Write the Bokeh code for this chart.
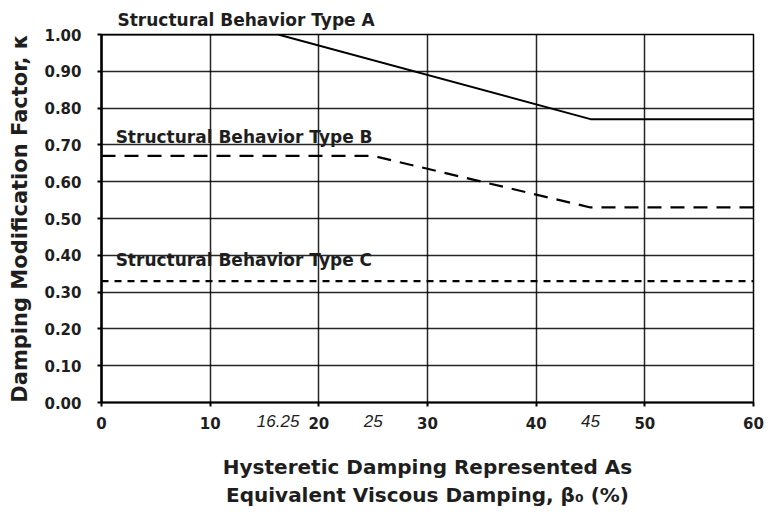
from bokeh.plotting import figure
from bokeh.models import Range1d, FixedTicker, NumeralTickFormatter, Label, LinearAxis, Title
from bokeh.embed import file_html
from bokeh.resources import INLINE

# Data
x_ticks = [0, 10, 20, 30, 40, 50, 60]
y_ticks = [0.0, 0.1, 0.2, 0.3, 0.4, 0.5, 0.6, 0.7, 0.8, 0.9, 1.0]
extra_x_ticks = [16.25, 25, 45]

type_a_x = [0, 16.25, 45, 60]
type_a_y = [1.00, 1.00, 0.77, 0.77]
type_b_x = [0, 25, 45, 60]
type_b_y = [0.67, 0.67, 0.53, 0.53]
type_c_x = [0, 60]
type_c_y = [0.33, 0.33]

label_a = "Structural Behavior Type A"
label_b = "Structural Behavior Type B"
label_c = "Structural Behavior Type C"
label_b_pos = (1.3, 0.722)
label_c_pos = (1.3, 0.386)

FONT = "DejaVu Sans"
TXT = "#1e1e1e"

p = figure(width=770, height=527, output_backend="svg", toolbar_location=None,
           x_range=Range1d(0, 60), y_range=Range1d(0, 1.0),
           min_border_left=101, min_border_right=17, min_border_top=34, min_border_bottom=125)

p.outline_line_color = "black"
p.outline_line_width = 1.5

# Title used for the Type A label that sits above the frame
p.add_layout(Title(text=label_a, align="left", offset=16, standoff=9,
                   text_font=FONT, text_font_style="bold", text_font_size="17px",
                   text_color=TXT), "above")

p.xaxis.ticker = FixedTicker(ticks=x_ticks)
p.yaxis.ticker = FixedTicker(ticks=y_ticks)
p.yaxis.formatter = NumeralTickFormatter(format="0.00")

for ax in (p.xaxis[0], p.yaxis[0]):
    ax.major_label_text_font = FONT
    ax.major_label_text_font_style = "bold"
    ax.major_label_text_font_size = "15px"
    ax.major_label_text_color = TXT
    ax.axis_label_text_font = FONT
    ax.axis_label_text_font_style = "bold"
    ax.axis_label_text_color = TXT
    ax.minor_tick_line_color = None
    ax.major_tick_line_color = "black"
    ax.major_tick_line_width = 2
    ax.major_tick_in = 0
    ax.major_tick_out = 4
    ax.axis_line_color = "black"

p.yaxis.axis_line_width = 2.5
p.xaxis.axis_line_width = 2
p.yaxis.axis_label = "Damping Modification Factor, κ"
p.yaxis.axis_label_text_font_size = "21px"
p.yaxis.axis_label_standoff = 9
p.yaxis.major_label_standoff = 16
p.xaxis.major_label_standoff = 10

# Second bottom axis: italic labels for the break points
ax2 = LinearAxis(ticker=FixedTicker(ticks=extra_x_ticks))
ax2.axis_line_color = None
ax2.major_tick_line_color = None
ax2.minor_tick_line_color = None
ax2.major_tick_out = 0
ax2.major_tick_in = 0
ax2.major_label_standoff = -17
ax2.major_label_text_font = "Liberation Sans"
ax2.major_label_text_font_style = "italic"
ax2.major_label_text_font_size = "17px"
ax2.major_label_text_color = TXT
ax2.axis_label = "Hysteretic Damping Represented As\nEquivalent Viscous Damping, β₀ (%)"
ax2.axis_label_text_font = FONT
ax2.axis_label_text_font_style = "bold"
ax2.axis_label_text_font_size = "20px"
ax2.axis_label_text_line_height = 1.2
ax2.axis_label_text_color = TXT
ax2.axis_label_standoff = 25
p.add_layout(ax2, "below")

p.xgrid.grid_line_color = "black"
p.ygrid.grid_line_color = "black"
p.xgrid.grid_line_width = 1.5
p.ygrid.grid_line_width = 1.5
p.xgrid.grid_line_alpha = 0.85
p.ygrid.grid_line_alpha = 0.85

p.line(type_a_x, type_a_y, line_color="black", line_width=2)
p.line(type_b_x, type_b_y, line_color="black", line_width=2.2, line_dash="14 9")
p.line(type_c_x, type_c_y, line_color="black", line_width=2.2, line_dash="7 6")

for txt, (lx, ly) in ((label_b, label_b_pos), (label_c, label_c_pos)):
    p.add_layout(Label(x=lx, y=ly, text=txt, text_font=FONT, text_font_style="bold",
                       text_font_size="17px", text_color=TXT, text_baseline="alphabetic"))

open("out.html", "w").write(file_html(p, INLINE))
